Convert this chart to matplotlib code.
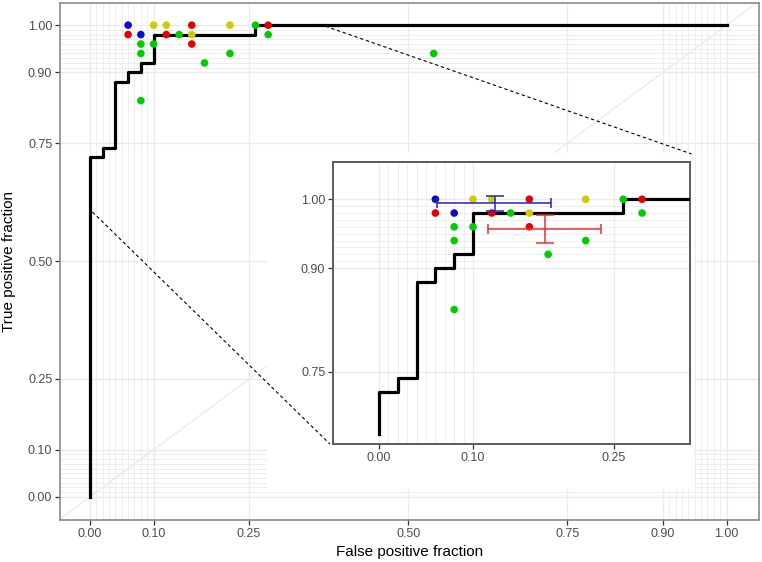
#ROC curve with individual reader points and a zoomed inset of the upper left corner
import numpy as np
import matplotlib.pyplot as plt
from matplotlib.patches import Rectangle
from matplotlib.lines import Line2D

plt.rcParams['font.family'] = ['Liberation Sans', 'DejaVu Sans']

#ROC curve corners (steps drawn horizontally first, then vertically)
roc_fpr = [0.00, 0.00, 0.02, 0.04, 0.06, 0.08, 0.10, 0.26, 1.00]
roc_tpr = [0.00, 0.72, 0.74, 0.88, 0.90, 0.92, 0.98, 1.00, 1.00]

#reader operating points, one group per colour
blue_fpr = [0.06, 0.08]
blue_tpr = [1.00, 0.98]
red_fpr = [0.06, 0.12, 0.16, 0.16, 0.28]
red_tpr = [0.98, 0.98, 1.00, 0.96, 1.00]
yellow_fpr = [0.10, 0.12, 0.16, 0.22]
yellow_tpr = [1.00, 1.00, 0.98, 1.00]
green_fpr = [0.08, 0.08, 0.08, 0.10, 0.14, 0.18, 0.22, 0.26, 0.28, 0.54]
green_tpr = [0.96, 0.94, 0.84, 0.96, 0.98, 0.92, 0.94, 1.00, 0.98, 0.94]

#mean points with ranges (inset only)
blue_mean = (0.123, 0.994)
blue_xrange = (0.062, 0.183)
blue_yrange = (0.983, 1.005)
red_mean = (0.177, 0.9565)
red_xrange = (0.116, 0.236)
red_yrange = (0.937, 0.977)

major_breaks = [0, 0.1, 0.25, 0.5, 0.75, 0.9, 1.0]
major_labels = ["0.00", "0.10", "0.25", "0.50", "0.75", "0.90", "1.00"]
minor_breaks = [i / 100 for i in range(1, 10)] + [i / 100 for i in range(91, 100)]

inset_xbreaks = [0, 0.1, 0.25]
inset_xlabels = ["0.00", "0.10", "0.25"]
inset_ybreaks = [0.75, 0.9, 1.0]
inset_ylabels = ["0.75", "0.90", "1.00"]
inset_floor = 0.66

col = {'blue': '#0a0acd', 'red': '#e60000', 'yellow': '#cdcd00', 'green': '#00cd00'}
grid_col = '#ebebeb'
tick_col = '#4d4d4d'

W, H = 762, 562
fig = plt.figure(figsize=(W / 100, H / 100), dpi=100)


def style(a, xb, xl, yb, yl, spine_col, spine_w, xlim, ylim):
    a.set_xticks(xb)
    a.set_xticklabels(xl)
    a.set_yticks(yb)
    a.set_yticklabels(yl)
    a.set_xticks(minor_breaks, minor=True)
    a.set_yticks(minor_breaks, minor=True)
    a.set_xlim(*xlim)
    a.set_ylim(*ylim)
    a.tick_params(which='major', length=3.5, width=0.9, color='#333333',
                  labelsize=9, labelcolor=tick_col, pad=2)
    a.tick_params(which='minor', length=0)
    a.grid(which='major', color=grid_col, lw=1.0)
    a.grid(which='minor', color=grid_col, lw=0.6)
    a.set_axisbelow(True)
    for s in a.spines.values():
        s.set_color(spine_col)
        s.set_linewidth(spine_w)


groups = [('blue', blue_fpr, blue_tpr), ('red', red_fpr, red_tpr),
          ('yellow', yellow_fpr, yellow_tpr), ('green', green_fpr, green_tpr)]

#main panel
ax = fig.add_axes([60 / W, 1 - 520 / H, 699 / W, 517 / H])
style(ax, major_breaks, major_labels, major_breaks, major_labels, '#8a8a8a', 1.2,
      (-0.047, 1.051), (-0.049, 1.047))
ax.plot([-0.1, 1.1], [-0.1, 1.1], color=grid_col, lw=1.0, zorder=1)
ax.plot(roc_fpr, roc_tpr, drawstyle='steps-post', color='black', lw=2.3, zorder=3)
for name, fx, ty in groups:
    ax.scatter(fx, ty, s=30, color=col[name], edgecolors='none', zorder=4)

#white background behind the inset
fig.add_artist(Rectangle((267 / W, 1 - 489 / H), 427 / W, 336 / H,
                         transform=fig.transFigure, facecolor='white',
                         edgecolor='none', zorder=1))

#inset panel
axi = fig.add_axes([333 / W, 1 - 444 / H, 357 / W, 282 / H], zorder=2)
style(axi, inset_xbreaks, inset_xlabels, inset_ybreaks, inset_ylabels, '#5a5a5a', 1.4,
      (-0.049, 0.331), (0.645, 1.054))
axi.plot(roc_fpr, np.maximum(roc_tpr, inset_floor), drawstyle='steps-post',
         color='black', lw=2.3, zorder=3)
for name, fx, ty in groups:
    axi.scatter(fx, ty, s=30, color=col[name], edgecolors='none', zorder=4)

for name, m, xr, yr in [('blue', blue_mean, blue_xrange, blue_yrange),
                        ('red', red_mean, red_xrange, red_yrange)]:
    ecol = '#2222cc' if name == 'blue' else '#e83030'
    axi.errorbar([m[0]], [m[1]], xerr=[[m[0] - xr[0]], [xr[1] - m[0]]],
                 fmt='none', ecolor=ecol, elinewidth=1.1, capsize=3.8, capthick=1.1, zorder=5)
    axi.errorbar([m[0]], [m[1]], yerr=[[m[1] - yr[0]], [yr[1] - m[1]]],
                 fmt='none', ecolor=ecol, elinewidth=1.1, capsize=6.2, capthick=1.1, zorder=5)

#dashed zoom guides, in main data coordinates
for xs, ys in [([0.004, 0.377], [0.604, 0.112]), ([0.361, 0.945], [1.002, 0.727])]:
    fig.add_artist(Line2D(xs, ys, transform=ax.transData, color='black', lw=0.8,
                          dashes=(3, 2.5), zorder=3))

fig.text(409.5 / W, 1 - 552 / H, "False positive fraction", ha='center', va='center',
         fontsize=11, color='black')
fig.text(9 / W, 1 - 261.5 / H, "True positive fraction", ha='center', va='center',
         rotation=90, fontsize=11, color='black')

fig.savefig('out.png', dpi=100)
